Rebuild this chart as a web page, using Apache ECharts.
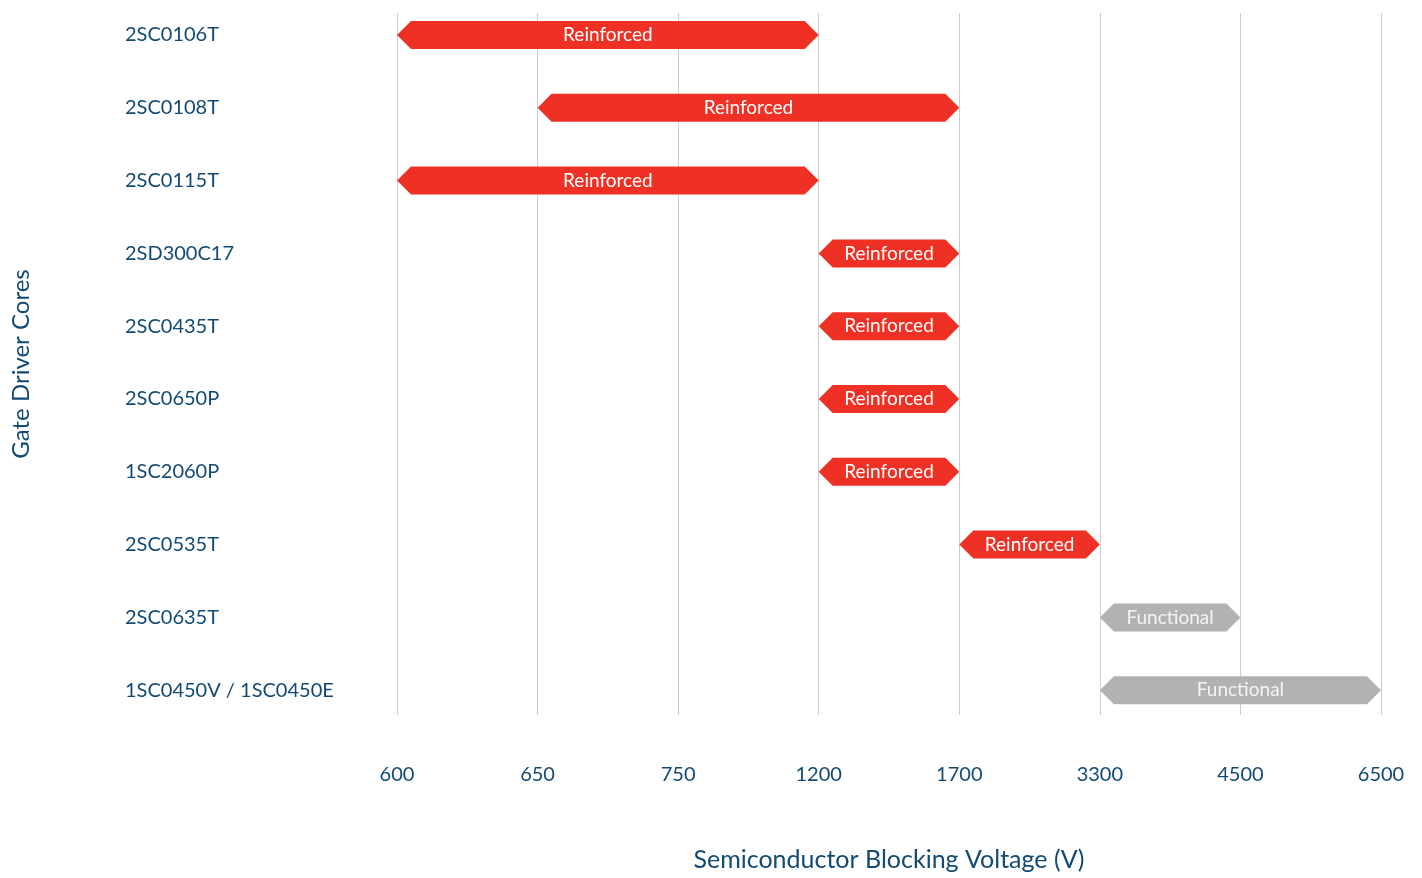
<!DOCTYPE html>
<html>
<head>
<meta charset="utf-8">
<script src="https://cdn.jsdelivr.net/npm/echarts@6/dist/echarts.min.js"></script>
<style>html,body{margin:0;padding:0;background:#fff}#c{width:1422px;height:878px}</style>
</head>
<body>
<div id="c"></div>
<script>
const categories = ['2SC0106T','2SC0108T','2SC0115T','2SD300C17','2SC0435T','2SC0650P','1SC2060P','2SC0535T','2SC0635T','1SC0450V / 1SC0450E'];
const startIdx = [0,1,0,3,3,3,3,4,5,5];
const endIdx   = [3,4,3,4,4,4,4,5,6,7];
const isolation = ['Reinforced','Reinforced','Reinforced','Reinforced','Reinforced','Reinforced','Reinforced','Reinforced','Functional','Functional'];
const tickLabels = ['600','650','750','1200','1700','3300','4500','6500'];

const FONT = 'Lato';
const TEXT = '#124a73';
const colorMap = {Reinforced:'#ee3124', Functional:'#b1b3b3'};

const data = categories.map((c,i)=>[i, startIdx[i], endIdx[i], isolation[i]]);

const chart = echarts.init(document.getElementById('c'), null, {renderer:'canvas'});
chart.setOption({
  animation:false,
  textStyle:{fontFamily:FONT},
  grid:{left:397, right:41, top:13, bottom:163, containLabel:false, outerBoundsMode:'none'},
  xAxis:{
    type:'value', min:0, max:tickLabels.length-1, interval:1,
    axisLine:{show:false}, axisTick:{show:false},
    splitLine:{show:true, lineStyle:{color:'#cccccc', width:1}},
    axisLabel:{margin:50, color:TEXT, fontSize:20, fontFamily:FONT, formatter:v=>tickLabels[v]},
    name:'Semiconductor Blocking Voltage (V)', nameLocation:'middle', nameGap:132,
    nameTextStyle:{color:TEXT, fontSize:25, fontFamily:FONT}
  },
  yAxis:{
    type:'value', inverse:true, min:-0.302, max:9.341,
    axisLine:{show:false}, axisTick:{show:false}, splitLine:{show:false},
    axisLabel:{customValues:categories.map((c,i)=>i), align:'left', margin:272, color:TEXT, fontSize:20, fontFamily:FONT, formatter:v=>categories[v]},
    name:'Gate Driver Cores', nameLocation:'middle', nameGap:364, nameRotate:90,
    nameTextStyle:{color:TEXT, fontSize:24, fontFamily:FONT}
  },
  series:[{
    type:'custom',
    data:data,
    encode:{x:[1,2], y:0},
    renderItem:function(params, api){
      const row = api.value(0);
      const p0 = api.coord([api.value(1), row]);
      const p1 = api.coord([api.value(2), row]);
      const h = 14, k = 14;
      const y = p0[1], x0 = p0[0], x1 = p1[0];
      const lab = isolation[params.dataIndex];
      return {
        type:'group',
        children:[
          {type:'polygon', shape:{points:[[x0,y],[x0+k,y-h],[x1-k,y-h],[x1,y],[x1-k,y+h],[x0+k,y+h]]},
           style:{fill:colorMap[lab]}},
          {type:'text', x:(x0+x1)/2, y:y, style:{text:lab, fill:lab==='Functional'?'#f4f4f4':'#ffffff', fontSize:19, fontFamily:FONT, align:'center', verticalAlign:'middle'}}
        ]
      };
    }
  }]
});
</script>
</body>
</html>
